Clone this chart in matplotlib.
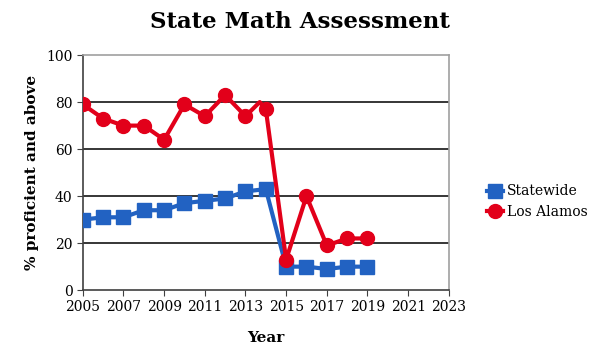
import matplotlib
matplotlib.use("Agg")
import matplotlib.pyplot as plt

# data
years_state = [2005, 2006, 2007, 2008, 2009, 2010, 2011, 2012, 2013, 2014,
               2015, 2016, 2017, 2018, 2019]
statewide = [30, 31, 31, 34, 34, 37, 38, 39, 42, 43, 10, 10, 9, 10, 10]

# Los Alamos line has an extra unmarked kink between 2013 and 2014
years_la = [2005, 2006, 2007, 2008, 2009, 2010, 2011, 2012, 2013, 2013.7,
            2014, 2015, 2016, 2017, 2018, 2019]
los_alamos = [79, 73, 70, 70, 64, 79, 74, 83, 74, 80, 77, 13, 40, 19, 22, 22]
la_marked = [i for i, x in enumerate(years_la) if float(x).is_integer()]

x_ticks = list(range(2005, 2024, 2))
y_ticks = [0, 20, 40, 60, 80, 100]

BLUE = "#2262C2"
RED = "#E2001A"

plt.rcParams["font.family"] = ["DejaVu Serif"]

fig = plt.figure(figsize=(6, 3.6), dpi=100)
ax = fig.add_axes([0.138, 0.194, 0.61, 0.653])

for y in [20, 40, 60, 80]:
    ax.axhline(y, color="black", lw=1.1, zorder=1)

ax.plot(years_state, statewide, color=BLUE, lw=3, marker="s", ms=9.5,
        label="Statewide", zorder=3)
ax.plot(years_la, los_alamos, color=RED, lw=3, marker="o", ms=10,
        markevery=la_marked, label="Los Alamos", zorder=4)

ax.set_xlim(2005, 2023)
ax.set_ylim(0, 100)
ax.set_xticks(x_ticks)
ax.set_yticks(y_ticks)
ax.tick_params(axis="both", labelsize=10, direction="out", length=4,
               color="#404040")
ax.tick_params(axis="x", pad=3)

for s in ["left", "bottom"]:
    ax.spines[s].set_color("#404040")
    ax.spines[s].set_linewidth(1.2)
for s in ["top", "right"]:
    ax.spines[s].set_color("#a0a0a0")
    ax.spines[s].set_linewidth(1.2)

ax.set_xlabel("Year", fontsize=11, fontweight="bold", labelpad=12)
ax.set_ylabel("% proficient and above", fontsize=11, fontweight="bold", labelpad=5)
fig.suptitle("State Math Assessment", fontsize=16.5, fontweight="bold", y=0.97)

fig.legend(loc="center left", bbox_to_anchor=(0.79, 0.44), frameon=False,
           fontsize=10, handlelength=1.2, handletextpad=0.3, labelspacing=0.45)

fig.savefig("out.png", dpi=100)
